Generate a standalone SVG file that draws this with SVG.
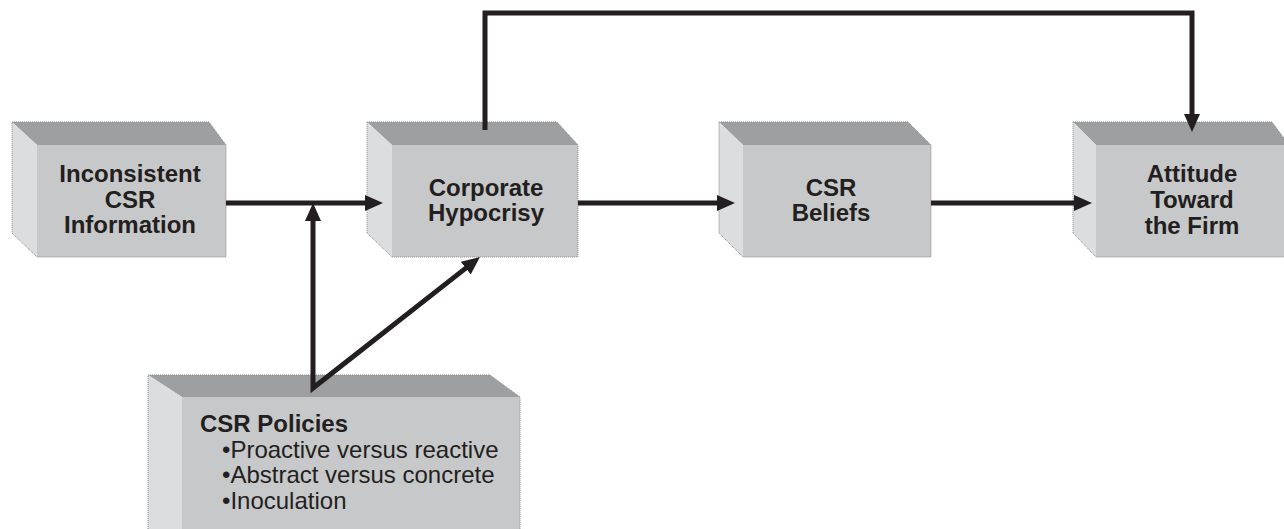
<svg xmlns="http://www.w3.org/2000/svg" width="1284" height="529" viewBox="0 0 1284 529">
<style>
.top{fill:#9e9fa0}
.side{fill:#dcdddf}
.front{fill:#c7c8c9}
.edge{fill:none;stroke:#8a8a8a;stroke-width:1;stroke-dasharray:1,1}
.lbl{font-family:"Liberation Sans",Arial,Helvetica,sans-serif;font-size:24px;font-weight:bold;fill:#231f20;text-anchor:middle}
.head{font-family:"Liberation Sans",Arial,Helvetica,sans-serif;font-size:24px;font-weight:bold;fill:#231f20}
.item{font-family:"Liberation Sans",Arial,Helvetica,sans-serif;font-size:24px;fill:#231f20}
.conn{fill:none;stroke:#231f20;stroke-width:5;stroke-linejoin:miter}
</style>
<defs>
<marker id="ah" viewBox="0 0 18 16" refX="2" refY="8" markerWidth="18" markerHeight="16" markerUnits="userSpaceOnUse" orient="auto-start-reverse">
<path d="M0,0 L18,8 L0,16 z" fill="#231f20"/>
</marker>
</defs>
<rect width="1284" height="529" fill="#ffffff"/>

<g id="node-inconsistent">
<polygon class="top" points="12,122 209,122 226,145 37,145"/>
<polygon class="side" points="12,122 37,145 37,257 12,233"/>
<rect class="front" x="37" y="145" width="189" height="112"/>
<polygon class="edge" points="12,122 209,122 226,145 226,257 37,257 12,233"/>
<text class="lbl" x="130" y="182">Inconsistent</text>
<text class="lbl" x="130" y="208">CSR</text>
<text class="lbl" x="130" y="233">Information</text>
</g>

<g id="node-hypocrisy">
<polygon class="top" points="367,122 557,122 578,145 392,145"/>
<polygon class="side" points="367,122 392,145 392,257 367,233"/>
<rect class="front" x="392" y="145" width="186" height="112"/>
<polygon class="edge" points="367,122 557,122 578,145 578,257 392,257 367,233"/>
<text class="lbl" x="486" y="196">Corporate</text>
<text class="lbl" x="486" y="221">Hypocrisy</text>
</g>

<g id="node-beliefs">
<polygon class="top" points="719,122 908,122 931,145 743,145"/>
<polygon class="side" points="719,122 743,145 743,257 719,233"/>
<rect class="front" x="743" y="145" width="188" height="112"/>
<polygon class="edge" points="719,122 908,122 931,145 931,257 743,257 719,233"/>
<text class="lbl" x="831" y="196">CSR</text>
<text class="lbl" x="831" y="221">Beliefs</text>
</g>

<g id="node-attitude">
<polygon class="top" points="1073,122 1272,122 1289,145 1096,145"/>
<polygon class="side" points="1073,122 1096,145 1096,257 1073,233"/>
<rect class="front" x="1096" y="145" width="193" height="112"/>
<polygon class="edge" points="1073,122 1272,122 1289,145 1289,257 1096,257 1073,233"/>
<text class="lbl" x="1192" y="182">Attitude</text>
<text class="lbl" x="1192" y="208">Toward</text>
<text class="lbl" x="1192" y="234">the Firm</text>
</g>

<g id="node-policies">
<polygon class="top" points="148,375 490,375 520,397 182,397"/>
<polygon class="side" points="148,375 182,397 182,535 148,535"/>
<rect class="front" x="182" y="397" width="338" height="138"/>
<polyline class="edge" points="148,535 148,375 490,375 520,397 520,535"/>
<text class="head" x="200" y="432">CSR Policies</text>
<text class="item" x="222" y="458">•Proactive versus reactive</text>
<text class="item" x="222" y="483">•Abstract versus concrete</text>
<text class="item" x="222" y="509">•Inoculation</text>
</g>

<g id="connectors">
<path class="conn" d="M226,203 L367,203" marker-end="url(#ah)"/>
<path class="conn" d="M578,203 L719,203" marker-end="url(#ah)"/>
<path class="conn" d="M931,203 L1076,203" marker-end="url(#ah)"/>
<path class="conn" d="M485,130 L485,13 L1192,13 L1192,116" marker-end="url(#ah)"/>
<path class="conn" d="M313,219 L313,388 L467.4,266.9" marker-start="url(#ah)" marker-end="url(#ah)"/>
</g>
</svg>
